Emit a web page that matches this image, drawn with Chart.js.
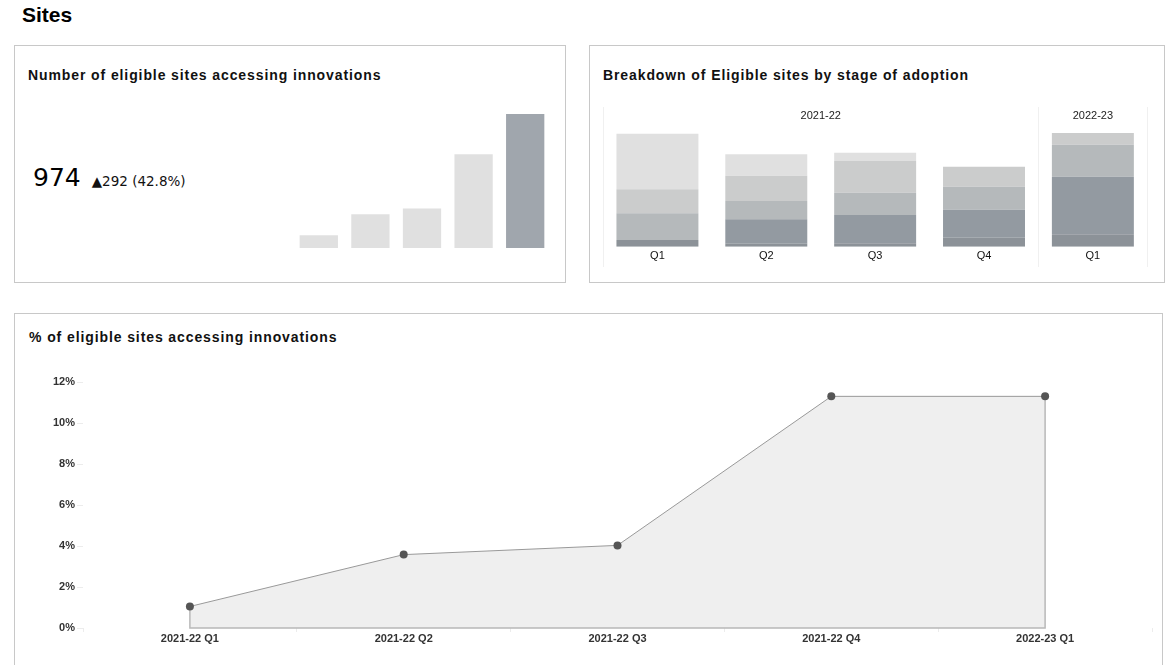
<!DOCTYPE html>
<html><head><meta charset="utf-8">
<script src="https://cdn.jsdelivr.net/npm/chart.js@4.4.1/dist/chart.umd.min.js"></script>
<style>
html,body{margin:0;padding:0;background:#fff;}
body{width:1166px;height:665px;position:relative;overflow:hidden;font-family:"Liberation Sans",Arial,sans-serif;color:#000;}
.abs{position:absolute;}
.panel{position:absolute;border:1px solid #c8c8c8;box-sizing:border-box;}
.ptitle{position:absolute;font-weight:bold;font-size:14px;line-height:16px;color:#111;white-space:nowrap;letter-spacing:0.9px;}
.box{position:absolute;}
</style></head>
<body>
<div class="abs" style="left:22px;top:3px;font-size:21px;line-height:24px;font-weight:bold;">Sites</div>
<div class="panel" style="left:14px;top:45px;width:552px;height:238px;"></div>
<div class="panel" style="left:589px;top:45px;width:576px;height:238px;"></div>
<div class="panel" style="left:14px;top:313px;width:1149px;height:360px;"></div>

<div class="ptitle" style="left:28px;top:67px;">Number of eligible sites accessing innovations</div>
<div class="ptitle" style="left:603px;top:67px;">Breakdown of Eligible sites by stage of adoption</div>
<div class="ptitle" style="left:29px;top:329px;">% of eligible sites accessing innovations</div>

<div class="abs" style="left:33px;top:164px;display:flex;align-items:baseline;font-family:'DejaVu Sans',sans-serif;white-space:nowrap;">
  <span id="kpiValue" style="font-size:25px;line-height:28px;"></span>
  <span id="kpiDelta" style="font-size:13.5px;margin-left:11px;color:#111;"></span>
</div>

<div class="box" style="left:293px;top:114px;width:258px;height:134px;"><canvas id="miniBars"></canvas></div>
<div class="box" style="left:590px;top:100px;width:573px;height:180px;"><canvas id="stageBars"></canvas></div>
<div class="box" style="left:14px;top:340px;width:1148px;height:325px;"><canvas id="pctLine"></canvas></div>

<script>
// ---- data ----
const countQuarters = ['2021-22 Q1', '2021-22 Q2', '2021-22 Q3', '2021-22 Q4', '2022-23 Q1'];
const eligibleSitesCount = [93, 245, 287, 682, 974];

const breakdownQuarters = ['Q1', 'Q2', 'Q3', 'Q4', 'Q1'];
const breakdownYears = ['2021-22', '2021-22', '2021-22', '2021-22', '2022-23'];
const stage1 = [6.7, 3.0, 3.4, 9.0, 12.4];
const stage2 = [0, 24.4, 28.3, 28.0, 57.6];
const stage3 = [26.7, 18.3, 22.3, 23.0, 32.0];
const stage4 = [24.0, 25.3, 31.7, 20.0, 11.7];
const stage5 = [55.6, 21.4, 8.3, 0, 0];

const pctQuarters = ['2021-22 Q1', '2021-22 Q2', '2021-22 Q3', '2021-22 Q4', '2022-23 Q1'];
const pctAccessing = [1.05, 3.58, 4.03, 11.30, 11.30];
const pctTicks = [0, 2, 4, 6, 8, 10, 12];

// ---- KPI text ----
const latest = eligibleSitesCount[eligibleSitesCount.length - 1];
const prev = eligibleSitesCount[eligibleSitesCount.length - 2];
const diff = latest - prev;
document.getElementById('kpiValue').textContent = String(latest);
document.getElementById('kpiDelta').textContent = '\u25B2' + diff + ' (' + (diff / prev * 100).toFixed(1) + '%)';

Chart.defaults.font.family = '"Liberation Sans", Arial, sans-serif';
Chart.defaults.animation = false;
Chart.defaults.plugins.legend.display = false;
Chart.defaults.plugins.tooltip.enabled = false;

// ---- mini bar chart ----
new Chart(document.getElementById('miniBars'), {
  type: 'bar',
  data: {
    labels: countQuarters,
    datasets: [{
      data: eligibleSitesCount,
      backgroundColor: eligibleSitesCount.map((v, i) => i === eligibleSitesCount.length - 1 ? '#a0a6ad' : '#e0e0e0'),
      borderWidth: 0,
      categoryPercentage: 1,
      barPercentage: 0.742
    }]
  },
  options: {
    responsive: true, maintainAspectRatio: false,
    layout: { padding: 0 },
    scales: {
      x: { display: false },
      y: { display: false, min: 0, max: 974 }
    }
  }
});

// ---- stacked breakdown chart ----
const stageColors = ['#8c9298', '#939aa1', '#b5b9bb', '#cbcccc', '#e0e0e0'];
const stages = [stage1, stage2, stage3, stage4, stage5];
const groupPlugin = {
  id: 'groupPlugin',
  afterDraw(chart) {
    const ctx = chart.ctx, xs = chart.scales.x, ca = chart.chartArea;
    const groups = [];
    breakdownYears.forEach((y, i) => {
      if (!groups.length || groups[groups.length - 1].name !== y) groups.push({ name: y, start: i, end: i });
      else groups[groups.length - 1].end = i;
    });
    const half = (xs.getPixelForValue(1) - xs.getPixelForValue(0)) / 2;
    ctx.save();
    ctx.strokeStyle = '#f0f0f0';
    ctx.lineWidth = 1;
    ctx.fillStyle = '#222';
    ctx.font = '11px "Liberation Sans", Arial, sans-serif';
    ctx.textAlign = 'center';
    ctx.textBaseline = 'middle';
    const edges = [ca.left];
    groups.forEach(g => {
      const l = xs.getPixelForValue(g.start) - half;
      const r = xs.getPixelForValue(g.end) + half;
      edges.push(r);
      ctx.fillText(g.name, (l + r) / 2, 16);
    });
    edges.forEach(x => {
      ctx.beginPath();
      ctx.moveTo(Math.round(x) + 0.5, 7);
      ctx.lineTo(Math.round(x) + 0.5, 167);
      ctx.stroke();
    });
    ctx.restore();
  }
};
new Chart(document.getElementById('stageBars'), {
  type: 'bar',
  data: {
    labels: breakdownQuarters,
    datasets: stages.map((s, i) => ({
      label: 'Stage ' + (i + 1),
      data: s,
      backgroundColor: stageColors[i],
      borderWidth: 0,
      categoryPercentage: 1,
      barPercentage: 0.753
    }))
  },
  options: {
    responsive: true, maintainAspectRatio: false,
    layout: { padding: { top: 27, left: 13, right: 15.7, bottom: 0 } },
    scales: {
      x: {
        stacked: true,
        grid: { display: false, drawTicks: false },
        border: { display: false },
        ticks: { color: '#111', font: { size: 11 }, padding: 3, maxRotation: 0 },
        afterFit(scale) { scale.height = 33.3; }
      },
      y: { stacked: true, display: false, min: 0, max: 119.7 }
    }
  },
  plugins: [groupPlugin]
});

// ---- percentage area line ----
const areaOutline = {
  id: 'areaOutline',
  beforeDatasetDraw(chart) {
    const pts = chart.getDatasetMeta(0).data;
    const y0 = chart.scales.y.getPixelForValue(0);
    const a = pts[0], b = pts[pts.length - 1];
    const ctx = chart.ctx;
    ctx.save();
    ctx.strokeStyle = '#b8b8b8';
    ctx.lineWidth = 1.5;
    ctx.beginPath();
    ctx.moveTo(a.x, a.y);
    ctx.lineTo(a.x, y0);
    ctx.lineTo(b.x, y0);
    ctx.lineTo(b.x, b.y);
    ctx.stroke();
    ctx.restore();
  }
};
new Chart(document.getElementById('pctLine'), {
  type: 'line',
  data: {
    labels: pctQuarters,
    datasets: [{
      data: pctAccessing,
      borderColor: '#999999',
      borderWidth: 1,
      backgroundColor: '#efefef',
      fill: 'origin',
      tension: 0,
      pointRadius: 4,
      pointBackgroundColor: '#555555',
      pointBorderWidth: 0
    }]
  },
  options: {
    responsive: true, maintainAspectRatio: false,
    layout: { padding: { top: 42, right: 10, left: 0, bottom: 0 } },
    scales: {
      x: {
        offset: true,
        grid: { offset: true, drawOnChartArea: false, drawTicks: true, tickLength: 4, color: '#ececec' },
        border: { display: false },
        ticks: { color: '#333', font: { size: 11, weight: 'bold' }, padding: 0, maxRotation: 0, autoSkip: false },
        afterFit(scale) { scale.height = 37; }
      },
      y: {
        min: 0, max: 12,
        afterBuildTicks(scale) { scale.ticks = pctTicks.map(v => ({ value: v })); },
        grid: { drawOnChartArea: false, drawTicks: true, tickLength: 6, color: '#ececec' },
        border: { display: false },
        ticks: { color: '#333', font: { size: 11, weight: 'bold' }, padding: 2, callback: v => v + '%' },
        afterFit(scale) { scale.width = 69; }
      }
    }
  },
  plugins: [areaOutline]
});
</script>
</body></html>
